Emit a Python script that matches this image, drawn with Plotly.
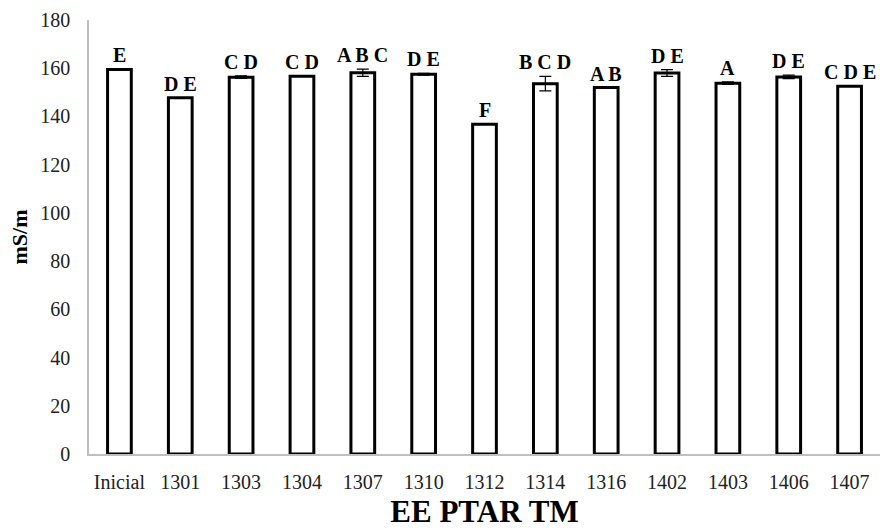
import plotly.graph_objects as go

categories = ["Inicial", "1301", "1303", "1304", "1307", "1310", "1312",
              "1314", "1316", "1402", "1403", "1406", "1407"]
values = [159.5, 147.8, 156.3, 156.7, 158.1, 157.5, 136.8,
          153.6, 152.0, 158.0, 153.8, 156.4, 152.5]
errors = [0.0, 0.0, 0.5, 0.0, 1.5, 0.4, 0.0,
          3.0, 0.0, 1.4, 0.5, 0.7, 0.0]
letters = ["E", "D E", "C D", "C D", "A B C", "D E", "F",
           "B C D", "A B", "D E", "A", "D E", "C D E"]

serif = "Liberation Serif, Times New Roman, serif"

fig = go.Figure()
fig.add_trace(go.Bar(
    x=categories, y=values, width=0.39,
    marker=dict(color="white", line=dict(color="black", width=3)),
    error_y=dict(type="data", array=errors, visible=True,
                 color="black", thickness=1.2, width=6),
    showlegend=False,
))

for i, (v, e, t) in enumerate(zip(values, errors, letters)):
    fig.add_annotation(x=i, y=v + e, text="<b>" + t + "</b>", showarrow=False,
                       yanchor="bottom", yshift=1,
                       font=dict(family=serif, size=20, color="black"))

fig.update_layout(
    width=881, height=529,
    margin=dict(l=89, r=1, t=20, b=75),
    paper_bgcolor="white", plot_bgcolor="white",
    font=dict(family=serif, size=19, color="black"),
    xaxis=dict(
        type="category", range=[-0.5, len(categories) - 0.5],
        showline=True, linecolor="#bfbfbf", linewidth=1.5,
        showgrid=False, ticks="", ticklabelstandoff=9,
        tickfont=dict(family=serif, size=20, color="#222"),
        title=dict(text="<b>EE PTAR TM</b>", standoff=14,
                   font=dict(family=serif, size=31, color="black")),
    ),
    yaxis=dict(
        range=[0, 180], dtick=20,
        showline=True, linecolor="#bfbfbf", linewidth=1.5,
        showgrid=False, ticks="", ticklabelstandoff=13, zeroline=False,
        tickfont=dict(family=serif, size=20, color="#222"),
        title=dict(text="<b>mS/m</b>", standoff=7,
                   font=dict(family=serif, size=22, color="black")),
    ),
)

fig.write_html("out.html")
